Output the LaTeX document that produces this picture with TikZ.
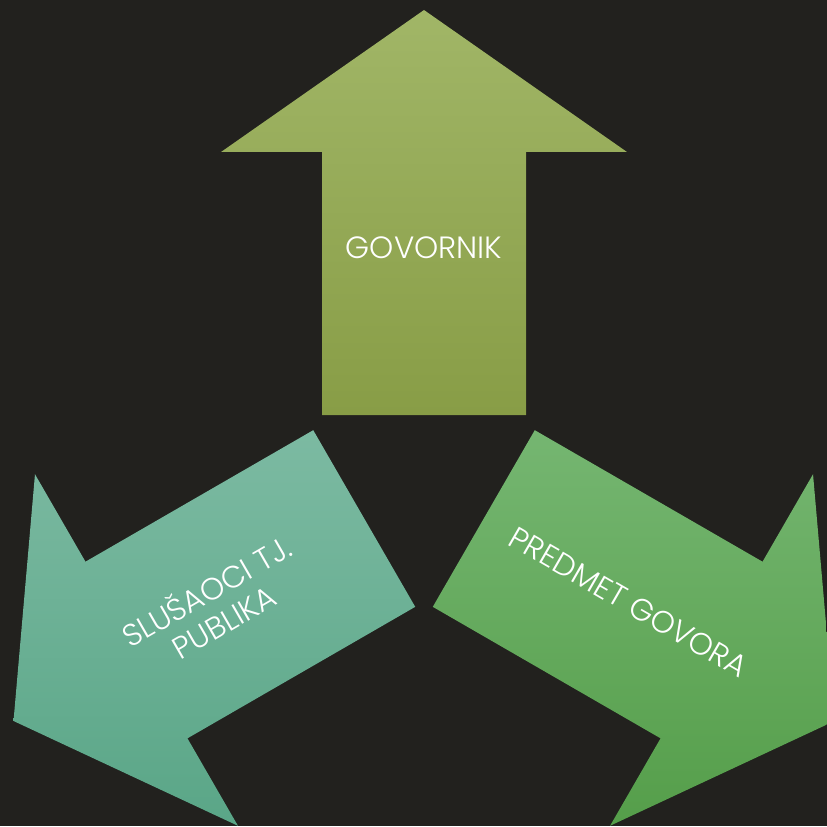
\documentclass[tikz,border=0pt]{standalone}
\usepackage{fontspec}
\setmainfont{Poppins Light}
\usepackage{xcolor}
\usetikzlibrary{calc}

\definecolor{bgdark}{HTML}{22211E}
\definecolor{olivetop}{HTML}{A1B667}
\definecolor{olivebot}{HTML}{889D46}
\definecolor{tealtop}{HTML}{7CBAA2}
\definecolor{tealbot}{HTML}{5AA687}
\definecolor{greentop}{HTML}{75B671}
\definecolor{greenbot}{HTML}{559E4A}

% one arrow, pointing away from (ctr) in direction #1
\newcommand{\arrowpath}[1]{($(ctr)+(#1:69)+(#1-90:102)$) -- ($(ctr)+(#1:332)+(#1-90:102)$)
  -- ($(ctr)+(#1:332)+(#1-90:203)$) -- ($(ctr)+(#1:474)$)
  -- ($(ctr)+(#1:332)+(#1+90:203)$) -- ($(ctr)+(#1:332)+(#1+90:102)$)
  -- ($(ctr)+(#1:69)+(#1+90:102)$) -- cycle}

\begin{document}
\begin{tikzpicture}[x=0.02cm, y=0.02cm,
  arrowshadow/.style={fill=black, opacity=0.3},
  lbl/.style={text=white, font=\fontsize{17.5}{20}\selectfont, align=center, inner sep=0pt}]

\fill[bgdark] (0,0) rectangle (827,826);
\useasboundingbox (0,0) rectangle (827,826);
\coordinate (ctr) at (424,342);

% shadows
\begin{scope}[xshift=1.5pt, yshift=-2pt]
\fill[arrowshadow] \arrowpath{90};
\fill[arrowshadow] \arrowpath{210};
\fill[arrowshadow] \arrowpath{-30};
\end{scope}

% arrows
\path[top color=olivetop, bottom color=olivebot] \arrowpath{90};
\path[top color=tealtop, bottom color=tealbot] \arrowpath{210};
\path[top color=greentop, bottom color=greenbot] \arrowpath{-30};

% labels
\node[lbl] (gov) at ($(ctr)+(90:236)$) {GOVORNIK};
\node[lbl, rotate=30] (slu) at ($(ctr)+(210:242)$) {SLUŠAOCI TJ.\\PUBLIKA};
\node[lbl, rotate=-30] (pred) at ($(ctr)+(-30:236)$) {PREDMET GOVORA};
\end{tikzpicture}
\end{document}
